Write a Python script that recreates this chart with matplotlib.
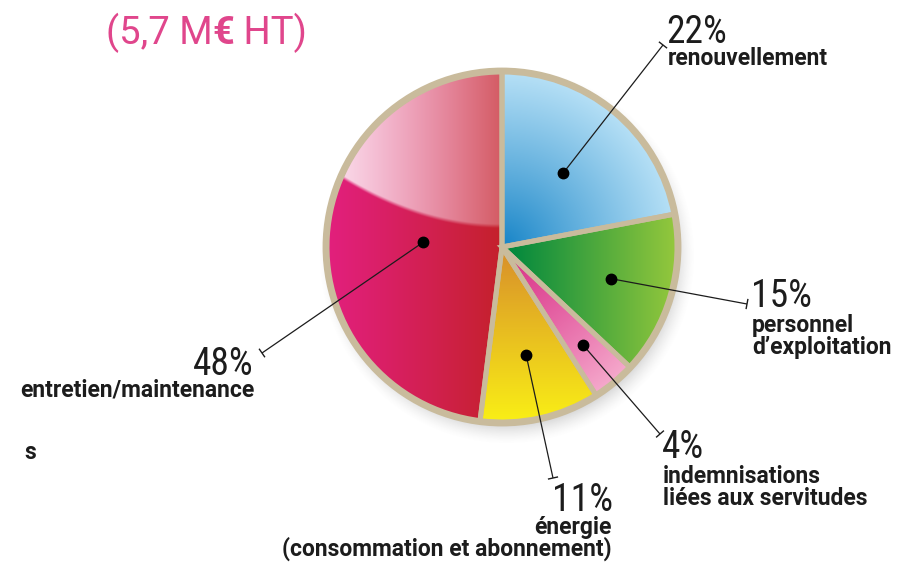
import numpy as np
import matplotlib
matplotlib.use('Agg')
import matplotlib.pyplot as plt
from matplotlib.patches import Circle
from matplotlib.colors import to_rgb

# ---------------- data ----------------
shares = [22, 15, 4, 11, 48]
pct_labels = ['22%', '15%', '4%', '11%', '48%']
cat_labels = ['renouvellement',
              'personnel\nd’exploitation',
              'indemnisations\nliées aux servitudes',
              'énergie\n(consommation et abonnement)',
              'entretien/maintenance']
title_parts = ['(5,7 M', '€', ' HT)']

# ---------------- layout ----------------
W, H = 898, 563
fig = plt.figure(figsize=(W / 100, H / 100), dpi=100)
ax = fig.add_axes([0, 0, 1, 1])

cx_p, cy_p, R = 502, 247, 175          # pie centre in pixel coords (y down)
cx, cy = cx_p, H - cy_p
beige = '#c9bb9c'
COND = ['Roboto Condensed', 'DejaVu Sans']
REG = ['Roboto', 'DejaVu Sans']
INK = '#1c1c1c'

# soft shadow below the pie
N = 420
xs = np.linspace(cx - R - 35, cx + R + 35, N)
ys = np.linspace(cy + R + 35, cy - R - 35, N)
XX, YY = np.meshgrid(xs, ys)
d = np.hypot(XX - (cx + 5), YY - (cy - 9))
sh_alpha = 0.45 * np.clip((R + 14 - d) / 28, 0, 1) ** 1.5
sh = np.zeros((N, N, 4))
sh[..., :3] = 0.45
sh[..., 3] = sh_alpha
ax.imshow(sh, extent=(xs[0], xs[-1], ys[-1], ys[0]), origin='upper',
          zorder=0, interpolation='bilinear')

wedges, _ = ax.pie(shares, startangle=90, counterclock=False,
                   center=(cx, cy), radius=R,
                   wedgeprops=dict(facecolor='none', edgecolor=beige,
                                   linewidth=3.6, zorder=3))

# gradient fills
M = 500
gx = np.linspace(cx - R, cx + R, M)
gy = np.linspace(cy + R, cy - R, M)
GX, GY = np.meshgrid(gx, gy)
PX = GX
PY = H - GY                         # pixel y (down)
dist = np.hypot(GX - cx, GY - cy)


def lerp(c1, c2, t):
    a = np.array(to_rgb(c1))
    b = np.array(to_rgb(c2))
    t = np.clip(t, 0, 1)[..., None]
    return a * (1 - t) + b * t


fills = []
fills.append(lerp('#1382c6', '#b6e0f6', (dist / R) ** 0.9))            # blue
fills.append(lerp('#068a3e', '#93c73c', (PX - 515) / (675 - 515)))     # green
fills.append(lerp('#d92f86', '#f5a9cc', (dist / R) ** 1.2))            # pink
fills.append(lerp('#d9922a', '#f9ee16', (PY - 255) / (420 - 255)))     # yellow
th = np.clip((PX - 327) / (502 - 327), 0, 1)
red = lerp('#e21f7d', '#c4212b', th ** 1.1)
curve = 228 - 0.00192 * (502 - PX) ** 2
f = np.clip(0.88 - 0.62 * th, 0, 1) * np.clip((curve - PY) / 4, 0, 1)
red = red * (1 - f[..., None]) + f[..., None] * 1.0
fills.append(red)

for w, img in zip(wedges, fills):
    im = ax.imshow(img, extent=(gx[0], gx[-1], gy[-1], gy[0]), origin='upper',
                   zorder=2, interpolation='bilinear')
    im.set_clip_path(w)

ax.add_patch(Circle((cx, cy), R + 1.5, fill=False, edgecolor=beige,
                    linewidth=4.2, zorder=4))

# ---------------- annotations ----------------
dot_frac = [0.55, 0.65, 0.73, 0.63, 0.45]
line_end = [(663, 45), (747, 304), (660, 434), (553, 478), (262, 353)]
pct_pos = [(666, 43, 'left'), (751, 307, 'left'), (662, 458, 'left'),
           (613, 511, 'right'), (254, 375, 'right')]
lab_base = [65, 332, 483, 534, 397]
lab_x = [668, 752, 663, 612, 254]
line_gap = 22

for i, w in enumerate(wedges):
    mid = np.deg2rad((w.theta1 + w.theta2) / 2)
    dx_ = cx + dot_frac[i] * R * np.cos(mid)
    dy_ = cy + dot_frac[i] * R * np.sin(mid)
    ex, ey = line_end[i][0], H - line_end[i][1]
    ax.plot([dx_, ex], [dy_, ey], color=INK, lw=0.9, zorder=6,
            solid_capstyle='butt')
    ax.plot([dx_], [dy_], 'o', color='black', ms=7.5, zorder=7)
    vx, vy = ex - dx_, ey - dy_
    L = np.hypot(vx, vy)
    px_, py_ = -vy / L * 4.5, vx / L * 4.5
    ax.plot([ex - px_, ex + px_], [ey - py_, ey + py_], color=INK,
            lw=1.0, zorder=6)
    x, yb, ha = pct_pos[i]
    ax.text(x, H - yb, pct_labels[i], ha=ha, va='baseline', fontsize=27,
            family=COND, fontweight='normal', color=INK, zorder=8)
    for j, line in enumerate(cat_labels[i].split('\n')):
        ax.text(lab_x[i], H - (lab_base[i] + j * line_gap), line, ha=ha,
                va='baseline', fontsize=16.5, fontweight='bold',
                family=REG, color=INK, zorder=8)

# cropped fragment on the left edge
ax.text(24, H - 459, 's', ha='left', va='baseline', fontsize=16.5,
        fontweight='bold', family=REG, color=INK)

# title with bold euro sign
fig.canvas.draw()
rend = fig.canvas.get_renderer()
x0 = 106
pink = '#e0468c'
for k, part in enumerate(title_parts):
    t = ax.text(x0, H - 44, part, ha='left', va='baseline', fontsize=27.5,
                fontweight='bold' if k == 1 else 'normal', family=REG,
                color=pink)
    bb = t.get_window_extent(renderer=rend)
    x0 = x0 + bb.width

ax.set_xlim(0, W)
ax.set_ylim(0, H)
ax.set_aspect('equal')
ax.axis('off')
fig.savefig('out.png', dpi=100)
